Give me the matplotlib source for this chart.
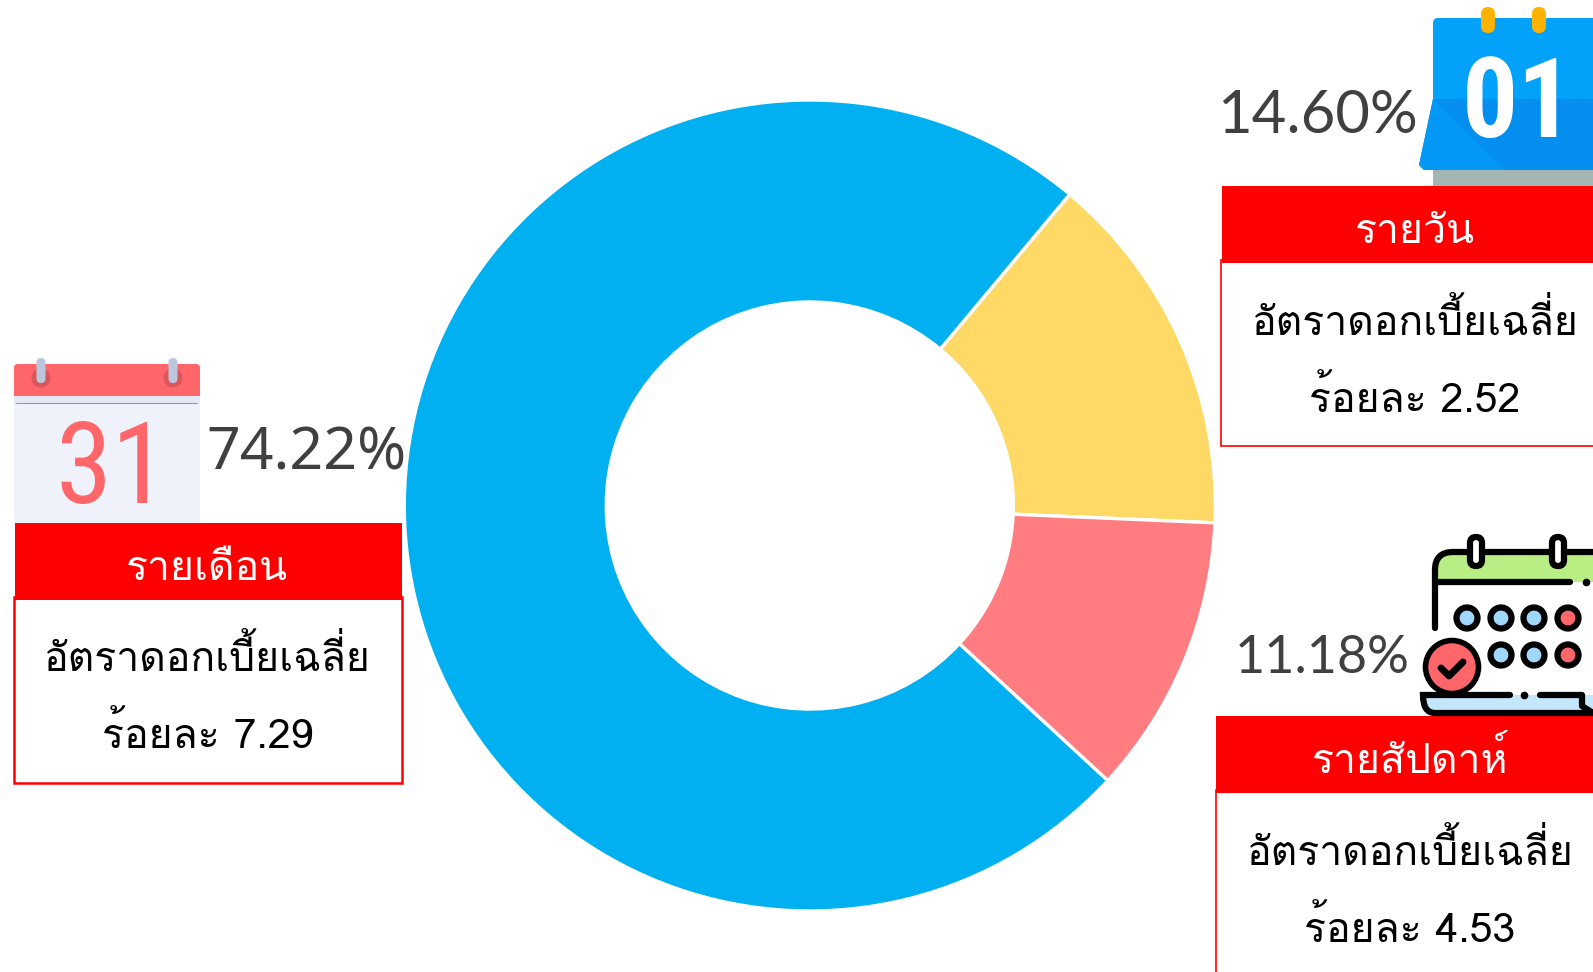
import matplotlib
matplotlib.use('Agg')
import matplotlib.pyplot as plt
from matplotlib.patches import Rectangle, Circle, FancyBboxPatch, Polygon, PathPatch
from matplotlib.path import Path

W, H = 1593, 972

# data
periods = ['รายเดือน', 'รายวัน', 'รายสัปดาห์']
shares = [74.22, 14.60, 11.18]
rates = [7.29, 2.52, 4.53]
colors = ['#00b0f0', '#ffd966', '#ff7c80']
rate_title = 'อัตราดอกเบี้ยเฉลี่ย'
rate_prefix = 'ร้อยละ'

thai = ['Loma', 'Sarabun', 'DejaVu Sans']
red = '#ff0000'

fig = plt.figure(figsize=(W / 100, H / 100), dpi=100, facecolor='white')

# donut
cx, cy, R = 809.8, 505.5, 405.5
ax = fig.add_axes([(cx - R) / W, 1 - (cy + R) / H, 2 * R / W, 2 * R / H])
ax.pie(shares, colors=colors, startangle=-42.7, counterclock=False, radius=1,
       wedgeprops={'width': 0.498, 'edgecolor': 'white', 'linewidth': 2.4})
ax.set_xlim(-1, 1)
ax.set_ylim(-1, 1)

# everything else is laid out in picture pixels
ov = fig.add_axes([0, 0, 1, 1], zorder=2)
ov.set_xlim(0, W)
ov.set_ylim(H, 0)
ov.axis('off')
ov.patch.set_alpha(0)


def card(x0, x1, top, bottom, box_x, lw, cxt, base_head, base_1, base_2, name, rate):
    ov.add_patch(Rectangle((box_x, top + 74), x1 - box_x, bottom - top - 74, fc='white', ec=red, lw=lw))
    ov.add_patch(Rectangle((x0, top), x1 - x0, 77, fc=red, ec='none'))
    ov.text(cxt, base_head, name, color='white', fontsize=29.5, family=thai, ha='center', va='baseline')
    ov.text(cxt, base_1, rate_title, color='black', fontsize=29.5, family=thai, ha='center', va='baseline')
    ov.text(cxt, base_2, f'{rate_prefix} {rate:.2f}', color='black', fontsize=29.5, family=thai, ha='center', va='baseline')


card(15, 402, 523, 783, 14, 1.8, 207.5, 580, 671, 747.5, periods[0], rates[0])
card(1222, 1620, 186, 446, 1221.3, 1.2, 1415, 243, 335, 411.5, periods[1], rates[1])
card(1216, 1620, 716, 1010, 1216, 1.2, 1410, 773, 865, 941.5, periods[2], rates[2])

pct_c = '#404040'
ov.text(206, 469, f'{shares[0]:.2f}%', color=pct_c, fontsize=42.5, family=['Noto Sans', 'DejaVu Sans'], va='baseline')
ov.text(1217, 133, f'{shares[1]:.2f}%', color=pct_c, fontsize=43, family=['Lato', 'DejaVu Sans'], va='baseline')
ov.text(1235, 673, f'{shares[2]:.2f}%', color=pct_c, fontsize=37.5, family=['Lato', 'DejaVu Sans'], va='baseline')

# monthly calendar icon
ov.add_patch(FancyBboxPatch((14, 364), 186, 159, boxstyle='round,pad=0,rounding_size=4', fc='#eff2fb', ec='none'))
ov.add_patch(FancyBboxPatch((14, 364), 186, 40, boxstyle='round,pad=0,rounding_size=4', fc='#ff6669', ec='none'))
ov.add_patch(Rectangle((14, 396), 186, 7, fc='#e4e9f6', ec='none'))
for x in (41, 173):
    ov.add_patch(Circle((x, 378), 9.5, fc='#d9565c', ec='none'))
    ov.add_patch(FancyBboxPatch((x - 4.5, 358), 9, 25, boxstyle='round,pad=0,rounding_size=4.5', fc='#bcc7de', ec='none'))
ov.text(112, 503, '31', color='#ff6669', fontsize=82, family=['Roboto Condensed', 'Roboto'], ha='center', va='baseline')

# daily calendar icon
ov.add_patch(Rectangle((1433, 165), 170, 21, fc='#a5b5b3', ec='none'))
ov.add_patch(FancyBboxPatch((1433, 18), 170, 90, boxstyle='round,pad=0,rounding_size=5', fc='#02a2fb', ec='none'))
ov.add_patch(Polygon([(1433, 99), (1600, 99), (1600, 170), (1424, 170), (1419, 165)], fc='#038ef0', ec='none'))
ov.add_patch(Polygon([(1433, 99), (1505, 170), (1424, 170), (1419, 165)], fc='#0398f5', ec='none'))
for x in (1488, 1539):
    ov.add_patch(FancyBboxPatch((x - 7, 7), 14, 26, boxstyle='round,pad=0,rounding_size=7', fc='#ffb300', ec='none'))
ov.text(1518, 137, '01', color='white', fontsize=80, family=['Roboto Condensed', 'Roboto'], weight='bold', ha='center', va='baseline')

# weekly calendar icon
k = '#000000'
ov.add_patch(PathPatch(Path([(1435, 582), (1435, 570), (1435, 552), (1453, 552), (1600, 552), (1600, 582), (1435, 582)],
                            [Path.MOVETO, Path.LINETO, Path.CURVE3, Path.CURVE3, Path.LINETO, Path.LINETO, Path.CLOSEPOLY]),
                       fc='#b9ee85', ec='none'))
ov.add_patch(PathPatch(Path([(1435, 628), (1435, 570), (1435, 552), (1453, 552), (1600, 552)],
                            [Path.MOVETO, Path.LINETO, Path.CURVE3, Path.CURVE3, Path.LINETO]),
                       fc='none', ec=k, lw=4.5, capstyle='round'))
ov.plot([1435, 1570], [582, 582], color=k, lw=4.5, solid_capstyle='round')
ov.plot([1586], [582], 'o', color=k, ms=4.5)
for x in (1476, 1558):
    ov.add_patch(FancyBboxPatch((x - 6, 537), 12, 29, boxstyle='round,pad=0,rounding_size=6', fc='white', ec=k, lw=4.5))
for x, y, c in [(1467, 618, '#9fd8fb'), (1501, 618, '#9fd8fb'), (1534, 618, '#9fd8fb'), (1568, 618, '#ff6669'),
                (1501, 655, '#9fd8fb'), (1534, 655, '#9fd8fb'), (1568, 655, '#ff6669')]:
    ov.add_patch(Circle((x, y), 10.5, fc=c, ec=k, lw=4.5))
ov.add_patch(FancyBboxPatch((1423, 695), 190, 17, boxstyle='round,pad=0,rounding_size=5', fc='#c5e7fd', ec='none'))
ov.add_patch(PathPatch(Path([(1510, 695), (1423, 695), (1423, 713), (1435, 713), (1600, 713)],
                            [Path.MOVETO, Path.LINETO, Path.CURVE3, Path.CURVE3, Path.LINETO]),
                       fc='none', ec=k, lw=4.5, capstyle='round'))
ov.plot([1540, 1582, 1582, 1593], [695, 695, 706, 713], color=k, lw=4.5, solid_capstyle='round')
ov.plot([1524], [695], 'o', color=k, ms=4.5)
ov.add_patch(Circle((1452, 667), 26.5, fc='#ff6669', ec=k, lw=4))
ov.plot([1441, 1449, 1463], [668, 676, 662], color=k, lw=5, solid_capstyle='round', solid_joinstyle='round')

fig.savefig('out.png', dpi=100)
